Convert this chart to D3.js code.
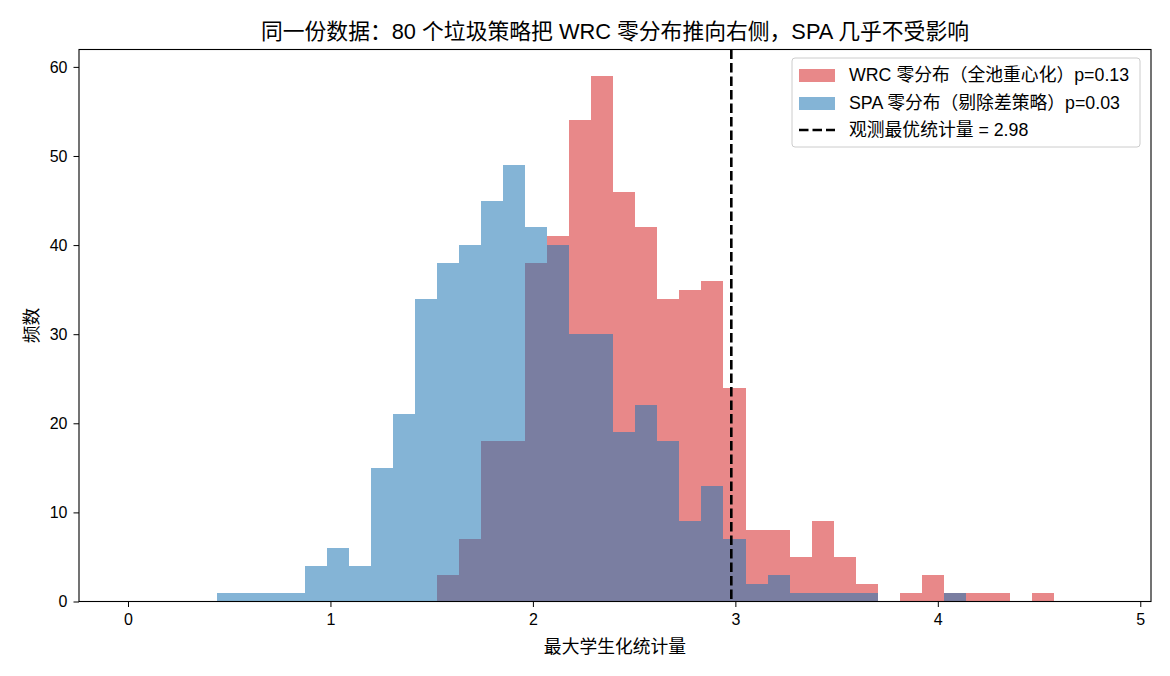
<!DOCTYPE html>
<html>
<head>
<meta charset="utf-8">
<script src="https://cdn.jsdelivr.net/npm/d3@7"></script>
<style>
  body { margin: 0; background: #fff; }
  text { font-family: "Liberation Sans", "Noto Sans CJK SC", sans-serif; fill: #000; }
</style>
</head>
<body>
<script>
// bins shared by both histograms
var binStart = 0.439;
var binWidth = 0.1088;
var wrcCounts = [0,0,0,0,0,0,0,0,0,0,
                 3,7,18,18,38,41,54,59,46,42,
                 34,35,36,24,8,8,5,9,5,2,
                 0,1,3,1,1,1,0,1];
var spaCounts = [1,1,1,1,4,6,4,15,21,34,
                 38,40,45,49,42,40,30,30,19,22,
                 18,9,13,7,2,3,1,1,1,1,
                 0,0,0,1,0,0,0,0];
var observed = 2.98;
var xTicks = [0,1,2,3,4,5];
var yTicks = [0,10,20,30,40,50,60];
var legendLabels = ["WRC 零分布（全池重心化）p=0.13", "SPA 零分布（剔除差策略）p=0.03", "观测最优统计量 = 2.98"];

var W = 1170, H = 676;
var m = {left: 79, right: 19, top: 49.5, bottom: 74.5};

var svg = d3.select("body").append("svg")
    .attr("width", W)
    .attr("height", H);

var x = d3.scaleLinear().domain([-0.242, 5.053]).range([m.left, W - m.right]);
var y = d3.scaleLinear().domain([0, 61.95]).range([H - m.bottom, m.top]);

function bins(counts){
    return counts.map(function(c, i){
        return {x0: binStart + i*binWidth, x1: binStart + (i+1)*binWidth, n: c};
    }).filter(function(d){ return d.n > 0; });
}

var plot = svg.append("g");

plot.selectAll("rect.wrc").data(bins(wrcCounts)).enter().append("rect")
    .attr("class","wrc")
    .attr("x", d => x(d.x0))
    .attr("width", d => x(d.x1) - x(d.x0))
    .attr("y", d => y(d.n))
    .attr("height", d => y(0) - y(d.n))
    .attr("fill", "#d62728").attr("fill-opacity", 0.55)
    .attr("shape-rendering","crispEdges");

plot.selectAll("rect.spa").data(bins(spaCounts)).enter().append("rect")
    .attr("class","spa")
    .attr("x", d => x(d.x0))
    .attr("width", d => x(d.x1) - x(d.x0))
    .attr("y", d => y(d.n))
    .attr("height", d => y(0) - y(d.n))
    .attr("fill", "#1f77b4").attr("fill-opacity", 0.55)
    .attr("shape-rendering","crispEdges");

// observed line
plot.append("line")
    .attr("x1", x(observed)).attr("x2", x(observed))
    .attr("y1", y.range()[1]).attr("y2", y(0))
    .attr("stroke","#000").attr("stroke-width",2.6)
    .attr("stroke-dasharray","9.5,4");

// axes
var xAxis = svg.append("g")
    .attr("transform","translate(0,"+ (H - m.bottom) +")")
    .call(d3.axisBottom(x).tickValues(xTicks).tickSize(5.5).tickPadding(6.5).tickFormat(d3.format("d")));
var yAxis = svg.append("g")
    .attr("transform","translate("+ m.left +",0)")
    .call(d3.axisLeft(y).tickValues(yTicks).tickSize(5.5).tickPadding(6).tickFormat(d3.format("d")));
[xAxis, yAxis].forEach(function(a){
    a.select(".domain").remove();
    a.selectAll(".tick line").attr("stroke","#000").attr("stroke-width",1);
    a.selectAll(".tick text").style("font-size","16px").attr("fill","#000");
});

// frame
svg.append("rect")
    .attr("x", m.left).attr("y", m.top)
    .attr("width", W - m.left - m.right).attr("height", H - m.top - m.bottom)
    .attr("fill","none").attr("stroke","#000").attr("stroke-width",1.1);

// labels
svg.append("text").text("同一份数据：80 个垃圾策略把 WRC 零分布推向右侧，SPA 几乎不受影响")
    .attr("x", (m.left + W - m.right)/2).attr("y", 39)
    .attr("text-anchor","middle").style("font-size","21.8px");
svg.append("text").text("最大学生化统计量")
    .attr("x", (m.left + W - m.right)/2).attr("y", 653)
    .attr("text-anchor","middle").style("font-size","17.8px");
svg.append("text").text("频数")
    .attr("transform","translate(38,"+ ((m.top + H - m.bottom)/2) +") rotate(-90)")
    .attr("text-anchor","middle").style("font-size","17.8px");

// legend
var lg = svg.append("g").attr("transform","translate(792,58)");
lg.append("rect").attr("width",348).attr("height",89).attr("rx",3)
    .attr("fill","#fff").attr("fill-opacity",0.8)
    .attr("stroke","#cccccc").attr("stroke-width",1);
var rowY = [16, 44, 71];
lg.append("rect").attr("x",7).attr("y",rowY[0]-5).attr("width",36).attr("height",13)
    .attr("fill","#d62728").attr("fill-opacity",0.55);
lg.append("rect").attr("x",7).attr("y",rowY[1]-5).attr("width",36).attr("height",13)
    .attr("fill","#1f77b4").attr("fill-opacity",0.55);
lg.append("line").attr("x1",7).attr("x2",43).attr("y1",rowY[2]+1).attr("y2",rowY[2]+1)
    .attr("stroke","#000").attr("stroke-width",2.6).attr("stroke-dasharray","9.5,4");
lg.selectAll("text.lab").data(legendLabels).enter().append("text")
    .attr("class","lab")
    .attr("x",57).attr("y",(d,i) => rowY[i] + 7)
    .style("font-size","17.8px")
    .text(d => d);
</script>
</body>
</html>
